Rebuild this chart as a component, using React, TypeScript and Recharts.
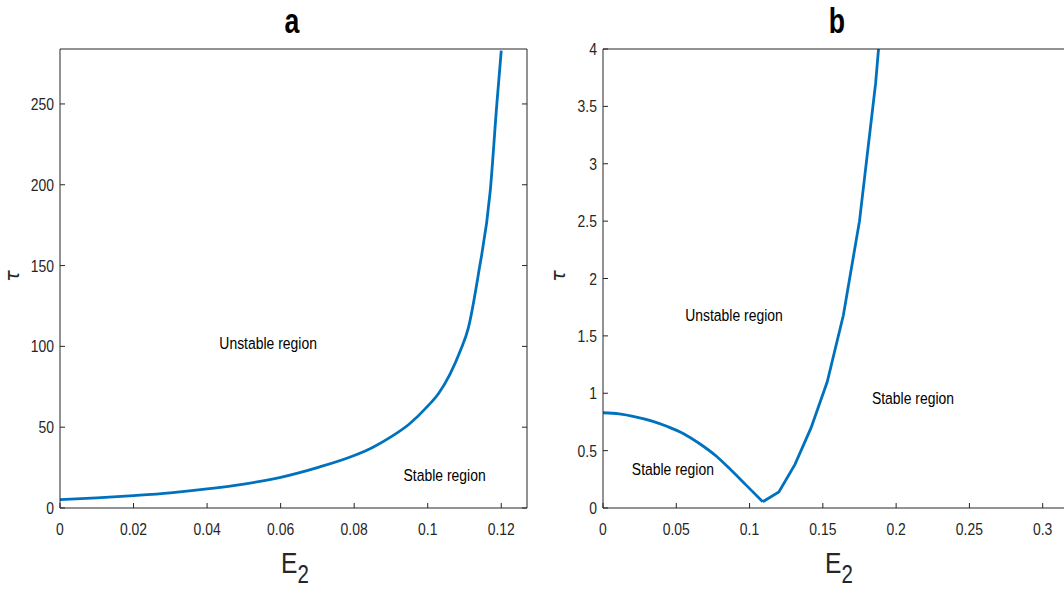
import React from "react";
import {
  Line,
  LineChart,
  ReferenceDot,
  XAxis,
  YAxis,
} from "recharts";

// panel a: tau against E2
const E2_A = [0, 0.01, 0.02, 0.03, 0.04, 0.05, 0.06, 0.07, 0.08, 0.085, 0.09, 0.095, 0.1, 0.103, 0.106, 0.109, 0.111, 0.1138, 0.117, 0.1188, 0.12];
const TAU_A = [5.2, 6.3, 7.7, 9.4, 11.8, 14.8, 19, 25, 32.5, 37.5, 44, 52, 63, 71, 82.5, 98, 111, 145, 196, 250, 283];

// panel b: left branch (down to the minimum) and right branch (from the minimum up)
const E2_B_LEFT = [0, 0.011, 0.022, 0.033, 0.044, 0.055, 0.066, 0.077, 0.087, 0.098, 0.109];
const TAU_B_LEFT = [0.83, 0.82, 0.795, 0.76, 0.71, 0.648, 0.56, 0.455, 0.335, 0.195, 0.055];
const E2_B_RIGHT = [0.109, 0.12, 0.131, 0.142, 0.153, 0.164, 0.175, 0.186, 0.188];
const TAU_B_RIGHT = [0.055, 0.14, 0.38, 0.7, 1.1, 1.68, 2.5, 3.7, 4.0];

const X_TICKS_A = [0, 0.02, 0.04, 0.06, 0.08, 0.1, 0.12];
const Y_TICKS_A = [0, 50, 100, 150, 200, 250];
const X_TICKS_B = [0, 0.05, 0.1, 0.15, 0.2, 0.25, 0.3];
const Y_TICKS_B = [0, 0.5, 1, 1.5, 2, 2.5, 3, 3.5, 4];

const REGIONS_A = [
  { text: "Unstable region", e2: 0.0566, tau: 102 },
  { text: "Stable region", e2: 0.1046, tau: 20.4 },
];
const REGIONS_B = [
  { text: "Unstable region", e2: 0.0894, tau: 1.68 },
  { text: "Stable region", e2: 0.0477, tau: 0.34 },
  { text: "Stable region", e2: 0.2115, tau: 0.96 },
];

const FONT = "'Liberation Sans', Arial, sans-serif";
const AXIS = "#262626";
const BLUE = "#0072BD";
const SQUEEZE = 0.82; // the reference uses a narrow Helvetica

// scale a text horizontally around its anchor x
const narrow = (x: number, k = SQUEEZE) => `matrix(${k} 0 0 1 ${x * (1 - k)} 0)`;

const toRows = (xs: number[], ys: number[]) => xs.map((x, i) => ({ e2: x, tau: ys[i] }));

const BottomTick = ({ x, y, payload }: any) => (
  <text x={x} y={y} dy="0.71em" textAnchor="middle" fontFamily={FONT} fontSize={17} fill={AXIS} transform={narrow(x)}>
    {String(payload.value)}
  </text>
);

const LeftTick = ({ x, y, payload }: any) => (
  <text x={x} y={y} dy="0.355em" textAnchor="end" fontFamily={FONT} fontSize={17} fill={AXIS} transform={narrow(x)}>
    {String(payload.value)}
  </text>
);

// mirrored axes keep their tick marks but show no labels
const NoLabel = () => <g />;

const RegionLabel = ({ viewBox, value }: any) => {
  const cx = viewBox.x + viewBox.width / 2;
  const cy = viewBox.y + viewBox.height / 2;
  return (
    <text x={cx} y={cy} dy="0.355em" textAnchor="middle" fontFamily={FONT} fontSize={17} fill="#000" transform={narrow(cx)}>
      {value}
    </text>
  );
};

const Panel = ({ series, xTicks, yTicks, xMax, yMax, regions, width, yWidth, left }: any) => (
  <div style={{ position: "absolute", left, top: 0 }}>
    <LineChart width={width} height={589} margin={{ top: 48, right: 12, bottom: 0, left: 0 }}>
      <XAxis
        dataKey="e2"
        type="number"
        domain={[0, xMax]}
        allowDataOverflow
        ticks={xTicks}
        height={81}
        tickSize={-5}
        tickMargin={20}
        tick={<BottomTick />}
        axisLine={{ stroke: AXIS }}
        tickLine={{ stroke: AXIS }}
      />
      <XAxis
        xAxisId="top"
        orientation="top"
        type="number"
        domain={[0, xMax]}
        allowDataOverflow
        ticks={xTicks}
        height={1}
        tickSize={-5}
        tick={<NoLabel />}
        axisLine={{ stroke: AXIS }}
        tickLine={{ stroke: AXIS }}
      />
      <YAxis
        type="number"
        domain={[0, yMax]}
        allowDataOverflow
        ticks={yTicks}
        width={yWidth}
        tickSize={-5}
        tickMargin={11}
        tick={<LeftTick />}
        axisLine={{ stroke: AXIS }}
        tickLine={{ stroke: AXIS }}
      />
      <YAxis
        yAxisId="right"
        orientation="right"
        type="number"
        domain={[0, yMax]}
        allowDataOverflow
        ticks={yTicks}
        width={1}
        tickSize={-5}
        tick={<NoLabel />}
        axisLine={{ stroke: AXIS }}
        tickLine={{ stroke: AXIS }}
      />
      {series.map((s: any, i: number) => (
        <Line
          key={i}
          data={s.rows}
          type={s.curve}
          dataKey="tau"
          stroke={BLUE}
          strokeWidth={2.8}
          dot={false}
          isAnimationActive={false}
        />
      ))}
      {regions.map((r: any, i: number) => (
        <ReferenceDot
          key={i}
          x={r.e2}
          y={r.tau}
          r={0}
          fill="none"
          stroke="none"
          label={<RegionLabel value={r.text} />}
        />
      ))}
    </LineChart>
  </div>
);

const Labels = () => (
  <svg width={1064} height={589} style={{ position: "absolute", left: 0, top: 0, pointerEvents: "none" }}>
    {[
      { title: "a", cx: 292, tauX: 19, eX: 281 },
      { title: "b", cx: 837, tauX: 565, eX: 825 },
    ].map((p) => (
      <g key={p.title}>
        <text x={p.cx} y={33} textAnchor="middle" fontFamily={FONT} fontWeight="bold" fontSize={36} fill="#000" transform={narrow(p.cx, 0.74)}>
          {p.title}
        </text>
        <text
          x={p.tauX}
          y={276}
          textAnchor="middle"
          fontFamily="'DejaVu Sans', sans-serif"
          fontStyle="italic"
          fontSize={19}
          fill={AXIS}
          transform={`rotate(-90 ${p.tauX} 276)`}
        >
          τ
        </text>
        <text x={p.eX} y={573} fontFamily={FONT} fontSize={30} fill={AXIS} transform={narrow(p.eX)}>
          E
          <tspan fontSize={25} dy={10}>2</tspan>
        </text>
      </g>
    ))}
  </svg>
);

export default function App() {
  return (
    <div
      style={{
        position: "fixed",
        left: 0,
        top: 0,
        width: 1064,
        height: 589,
        overflow: "hidden",
        background: "#fff",
      }}
    >
      <Panel
        series={[{ rows: toRows(E2_A, TAU_A), curve: "monotone" }]}
        xTicks={X_TICKS_A}
        yTicks={Y_TICKS_A}
        xMax={0.127}
        yMax={284}
        regions={REGIONS_A}
        width={540}
        yWidth={60}
        left={0}
      />
      <Panel
        series={[
          { rows: toRows(E2_B_LEFT, TAU_B_LEFT), curve: "monotone" },
          { rows: toRows(E2_B_RIGHT, TAU_B_RIGHT), curve: "linear" },
        ]}
        xTicks={X_TICKS_B}
        yTicks={Y_TICKS_B}
        xMax={0.32}
        yMax={4}
        regions={REGIONS_B}
        width={545}
        yWidth={63}
        left={540}
      />
      <Labels />
    </div>
  );
}
